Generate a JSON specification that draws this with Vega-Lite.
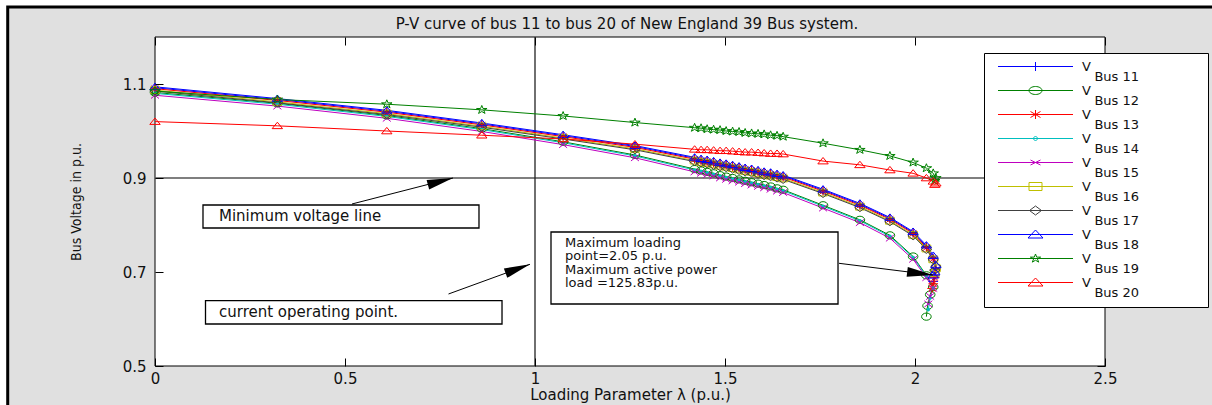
{
  "$schema": "https://vega.github.io/schema/vega-lite/v6.json",
  "width": 950,
  "height": 329,
  "autosize": "none",
  "padding": {"left": 155, "top": 37, "right": 107, "bottom": 39},
  "background": "white",
  "config": {
    "view": {"stroke": null},
    "style": {"guide-label": {"lineHeight": 10}}
  },
  "datasets": {
    "pv": [
      {"b":"Bus 11","l":0,"v":1.092},{"b":"Bus 11","l":0.322,"v":1.067},{"b":"Bus 11","l":0.61,"v":1.042},{"b":"Bus 11","l":0.86,"v":1.015},{"b":"Bus 11","l":1.074,"v":0.99},{"b":"Bus 11","l":1.263,"v":0.967},{"b":"Bus 11","l":1.42,"v":0.942},{"b":"Bus 11","l":1.437,"v":0.939},{"b":"Bus 11","l":1.453,"v":0.937},{"b":"Bus 11","l":1.47,"v":0.934},{"b":"Bus 11","l":1.487,"v":0.931},{"b":"Bus 11","l":1.503,"v":0.929},{"b":"Bus 11","l":1.52,"v":0.926},{"b":"Bus 11","l":1.537,"v":0.923},{"b":"Bus 11","l":1.553,"v":0.92},{"b":"Bus 11","l":1.57,"v":0.918},{"b":"Bus 11","l":1.587,"v":0.915},{"b":"Bus 11","l":1.603,"v":0.912},{"b":"Bus 11","l":1.62,"v":0.91},{"b":"Bus 11","l":1.637,"v":0.907},{"b":"Bus 11","l":1.653,"v":0.904},{"b":"Bus 11","l":1.758,"v":0.874},{"b":"Bus 11","l":1.855,"v":0.844},{"b":"Bus 11","l":1.934,"v":0.814},{"b":"Bus 11","l":1.995,"v":0.784},{"b":"Bus 11","l":2.03,"v":0.754},{"b":"Bus 11","l":2.048,"v":0.73},{"b":"Bus 11","l":2.055,"v":0.707},{"b":"Bus 11","l":2.052,"v":0.692},{"b":"Bus 11","l":2.048,"v":0.68},
      {"b":"Bus 12","l":0,"v":1.082},{"b":"Bus 12","l":0.322,"v":1.059},{"b":"Bus 12","l":0.61,"v":1.033},{"b":"Bus 12","l":0.86,"v":1.005},{"b":"Bus 12","l":1.074,"v":0.977},{"b":"Bus 12","l":1.263,"v":0.949},{"b":"Bus 12","l":1.42,"v":0.919},{"b":"Bus 12","l":1.437,"v":0.916},{"b":"Bus 12","l":1.453,"v":0.913},{"b":"Bus 12","l":1.47,"v":0.91},{"b":"Bus 12","l":1.487,"v":0.906},{"b":"Bus 12","l":1.503,"v":0.903},{"b":"Bus 12","l":1.52,"v":0.9},{"b":"Bus 12","l":1.537,"v":0.897},{"b":"Bus 12","l":1.553,"v":0.894},{"b":"Bus 12","l":1.57,"v":0.891},{"b":"Bus 12","l":1.587,"v":0.888},{"b":"Bus 12","l":1.603,"v":0.885},{"b":"Bus 12","l":1.62,"v":0.882},{"b":"Bus 12","l":1.637,"v":0.878},{"b":"Bus 12","l":1.653,"v":0.875},{"b":"Bus 12","l":1.758,"v":0.842},{"b":"Bus 12","l":1.855,"v":0.811},{"b":"Bus 12","l":1.934,"v":0.778},{"b":"Bus 12","l":1.995,"v":0.733},{"b":"Bus 12","l":2.03,"v":0.693},{"b":"Bus 12","l":2.048,"v":0.668},{"b":"Bus 12","l":2.04,"v":0.652},{"b":"Bus 12","l":2.033,"v":0.628},{"b":"Bus 12","l":2.03,"v":0.605},
      {"b":"Bus 13","l":0,"v":1.09},{"b":"Bus 13","l":0.322,"v":1.065},{"b":"Bus 13","l":0.61,"v":1.04},{"b":"Bus 13","l":0.86,"v":1.013},{"b":"Bus 13","l":1.074,"v":0.988},{"b":"Bus 13","l":1.263,"v":0.965},{"b":"Bus 13","l":1.42,"v":0.94},{"b":"Bus 13","l":1.437,"v":0.937},{"b":"Bus 13","l":1.453,"v":0.935},{"b":"Bus 13","l":1.47,"v":0.932},{"b":"Bus 13","l":1.487,"v":0.929},{"b":"Bus 13","l":1.503,"v":0.927},{"b":"Bus 13","l":1.52,"v":0.924},{"b":"Bus 13","l":1.537,"v":0.921},{"b":"Bus 13","l":1.553,"v":0.918},{"b":"Bus 13","l":1.57,"v":0.916},{"b":"Bus 13","l":1.587,"v":0.913},{"b":"Bus 13","l":1.603,"v":0.91},{"b":"Bus 13","l":1.62,"v":0.908},{"b":"Bus 13","l":1.637,"v":0.905},{"b":"Bus 13","l":1.653,"v":0.902},{"b":"Bus 13","l":1.758,"v":0.872},{"b":"Bus 13","l":1.855,"v":0.842},{"b":"Bus 13","l":1.934,"v":0.812},{"b":"Bus 13","l":1.995,"v":0.782},{"b":"Bus 13","l":2.03,"v":0.752},{"b":"Bus 13","l":2.048,"v":0.728},{"b":"Bus 13","l":2.055,"v":0.705},{"b":"Bus 13","l":2.052,"v":0.688},{"b":"Bus 13","l":2.048,"v":0.675},{"b":"Bus 13","l":2.045,"v":0.665},
      {"b":"Bus 14","l":0,"v":1.08},{"b":"Bus 14","l":0.322,"v":1.057},{"b":"Bus 14","l":0.61,"v":1.031},{"b":"Bus 14","l":0.86,"v":1.003},{"b":"Bus 14","l":1.074,"v":0.975},{"b":"Bus 14","l":1.263,"v":0.947},{"b":"Bus 14","l":1.42,"v":0.917},{"b":"Bus 14","l":1.437,"v":0.914},{"b":"Bus 14","l":1.453,"v":0.911},{"b":"Bus 14","l":1.47,"v":0.908},{"b":"Bus 14","l":1.487,"v":0.904},{"b":"Bus 14","l":1.503,"v":0.901},{"b":"Bus 14","l":1.52,"v":0.898},{"b":"Bus 14","l":1.537,"v":0.895},{"b":"Bus 14","l":1.553,"v":0.892},{"b":"Bus 14","l":1.57,"v":0.889},{"b":"Bus 14","l":1.587,"v":0.886},{"b":"Bus 14","l":1.603,"v":0.883},{"b":"Bus 14","l":1.62,"v":0.88},{"b":"Bus 14","l":1.637,"v":0.876},{"b":"Bus 14","l":1.653,"v":0.873},{"b":"Bus 14","l":1.758,"v":0.84},{"b":"Bus 14","l":1.855,"v":0.809},{"b":"Bus 14","l":1.934,"v":0.776},{"b":"Bus 14","l":1.995,"v":0.731},{"b":"Bus 14","l":2.03,"v":0.691},{"b":"Bus 14","l":2.048,"v":0.666},{"b":"Bus 14","l":2.04,"v":0.645},{"b":"Bus 14","l":2.035,"v":0.62},
      {"b":"Bus 15","l":0,"v":1.076},{"b":"Bus 15","l":0.322,"v":1.053},{"b":"Bus 15","l":0.61,"v":1.027},{"b":"Bus 15","l":0.86,"v":0.999},{"b":"Bus 15","l":1.074,"v":0.971},{"b":"Bus 15","l":1.263,"v":0.943},{"b":"Bus 15","l":1.42,"v":0.913},{"b":"Bus 15","l":1.437,"v":0.91},{"b":"Bus 15","l":1.453,"v":0.907},{"b":"Bus 15","l":1.47,"v":0.904},{"b":"Bus 15","l":1.487,"v":0.9},{"b":"Bus 15","l":1.503,"v":0.897},{"b":"Bus 15","l":1.52,"v":0.894},{"b":"Bus 15","l":1.537,"v":0.891},{"b":"Bus 15","l":1.553,"v":0.888},{"b":"Bus 15","l":1.57,"v":0.885},{"b":"Bus 15","l":1.587,"v":0.882},{"b":"Bus 15","l":1.603,"v":0.879},{"b":"Bus 15","l":1.62,"v":0.876},{"b":"Bus 15","l":1.637,"v":0.872},{"b":"Bus 15","l":1.653,"v":0.869},{"b":"Bus 15","l":1.758,"v":0.836},{"b":"Bus 15","l":1.855,"v":0.805},{"b":"Bus 15","l":1.934,"v":0.772},{"b":"Bus 15","l":1.995,"v":0.727},{"b":"Bus 15","l":2.03,"v":0.688},{"b":"Bus 15","l":2.048,"v":0.665},{"b":"Bus 15","l":2.04,"v":0.648},{"b":"Bus 15","l":2.035,"v":0.632},
      {"b":"Bus 16","l":0,"v":1.087},{"b":"Bus 16","l":0.322,"v":1.062},{"b":"Bus 16","l":0.61,"v":1.037},{"b":"Bus 16","l":0.86,"v":1.01},{"b":"Bus 16","l":1.074,"v":0.985},{"b":"Bus 16","l":1.263,"v":0.962},{"b":"Bus 16","l":1.42,"v":0.937},{"b":"Bus 16","l":1.437,"v":0.934},{"b":"Bus 16","l":1.453,"v":0.932},{"b":"Bus 16","l":1.47,"v":0.929},{"b":"Bus 16","l":1.487,"v":0.926},{"b":"Bus 16","l":1.503,"v":0.924},{"b":"Bus 16","l":1.52,"v":0.921},{"b":"Bus 16","l":1.537,"v":0.918},{"b":"Bus 16","l":1.553,"v":0.915},{"b":"Bus 16","l":1.57,"v":0.913},{"b":"Bus 16","l":1.587,"v":0.91},{"b":"Bus 16","l":1.603,"v":0.907},{"b":"Bus 16","l":1.62,"v":0.905},{"b":"Bus 16","l":1.637,"v":0.902},{"b":"Bus 16","l":1.653,"v":0.899},{"b":"Bus 16","l":1.758,"v":0.869},{"b":"Bus 16","l":1.855,"v":0.839},{"b":"Bus 16","l":1.934,"v":0.809},{"b":"Bus 16","l":1.995,"v":0.779},{"b":"Bus 16","l":2.03,"v":0.75},{"b":"Bus 16","l":2.048,"v":0.727},{"b":"Bus 16","l":2.055,"v":0.708},{"b":"Bus 16","l":2.052,"v":0.698},
      {"b":"Bus 17","l":0,"v":1.085},{"b":"Bus 17","l":0.322,"v":1.06},{"b":"Bus 17","l":0.61,"v":1.035},{"b":"Bus 17","l":0.86,"v":1.008},{"b":"Bus 17","l":1.074,"v":0.983},{"b":"Bus 17","l":1.263,"v":0.96},{"b":"Bus 17","l":1.42,"v":0.935},{"b":"Bus 17","l":1.437,"v":0.932},{"b":"Bus 17","l":1.453,"v":0.93},{"b":"Bus 17","l":1.47,"v":0.927},{"b":"Bus 17","l":1.487,"v":0.924},{"b":"Bus 17","l":1.503,"v":0.922},{"b":"Bus 17","l":1.52,"v":0.919},{"b":"Bus 17","l":1.537,"v":0.916},{"b":"Bus 17","l":1.553,"v":0.913},{"b":"Bus 17","l":1.57,"v":0.911},{"b":"Bus 17","l":1.587,"v":0.908},{"b":"Bus 17","l":1.603,"v":0.905},{"b":"Bus 17","l":1.62,"v":0.903},{"b":"Bus 17","l":1.637,"v":0.9},{"b":"Bus 17","l":1.653,"v":0.897},{"b":"Bus 17","l":1.758,"v":0.867},{"b":"Bus 17","l":1.855,"v":0.837},{"b":"Bus 17","l":1.934,"v":0.807},{"b":"Bus 17","l":1.995,"v":0.777},{"b":"Bus 17","l":2.03,"v":0.748},{"b":"Bus 17","l":2.048,"v":0.726},{"b":"Bus 17","l":2.055,"v":0.712},{"b":"Bus 17","l":2.052,"v":0.704},
      {"b":"Bus 18","l":0,"v":1.094},{"b":"Bus 18","l":0.322,"v":1.069},{"b":"Bus 18","l":0.61,"v":1.044},{"b":"Bus 18","l":0.86,"v":1.017},{"b":"Bus 18","l":1.074,"v":0.992},{"b":"Bus 18","l":1.263,"v":0.969},{"b":"Bus 18","l":1.42,"v":0.944},{"b":"Bus 18","l":1.437,"v":0.941},{"b":"Bus 18","l":1.453,"v":0.939},{"b":"Bus 18","l":1.47,"v":0.936},{"b":"Bus 18","l":1.487,"v":0.933},{"b":"Bus 18","l":1.503,"v":0.931},{"b":"Bus 18","l":1.52,"v":0.928},{"b":"Bus 18","l":1.537,"v":0.925},{"b":"Bus 18","l":1.553,"v":0.922},{"b":"Bus 18","l":1.57,"v":0.92},{"b":"Bus 18","l":1.587,"v":0.917},{"b":"Bus 18","l":1.603,"v":0.914},{"b":"Bus 18","l":1.62,"v":0.912},{"b":"Bus 18","l":1.637,"v":0.909},{"b":"Bus 18","l":1.653,"v":0.906},{"b":"Bus 18","l":1.758,"v":0.876},{"b":"Bus 18","l":1.855,"v":0.846},{"b":"Bus 18","l":1.934,"v":0.816},{"b":"Bus 18","l":1.995,"v":0.786},{"b":"Bus 18","l":2.03,"v":0.757},{"b":"Bus 18","l":2.048,"v":0.735},{"b":"Bus 18","l":2.055,"v":0.715},{"b":"Bus 18","l":2.052,"v":0.7},{"b":"Bus 18","l":2.048,"v":0.693},
      {"b":"Bus 19","l":0,"v":1.085},{"b":"Bus 19","l":0.322,"v":1.067},{"b":"Bus 19","l":0.61,"v":1.057},{"b":"Bus 19","l":0.86,"v":1.045},{"b":"Bus 19","l":1.074,"v":1.032},{"b":"Bus 19","l":1.263,"v":1.018},{"b":"Bus 19","l":1.42,"v":1.007},{"b":"Bus 19","l":1.437,"v":1.006},{"b":"Bus 19","l":1.453,"v":1.004},{"b":"Bus 19","l":1.47,"v":1.003},{"b":"Bus 19","l":1.487,"v":1.002},{"b":"Bus 19","l":1.503,"v":1.0},{"b":"Bus 19","l":1.52,"v":0.999},{"b":"Bus 19","l":1.537,"v":0.998},{"b":"Bus 19","l":1.553,"v":0.996},{"b":"Bus 19","l":1.57,"v":0.995},{"b":"Bus 19","l":1.587,"v":0.994},{"b":"Bus 19","l":1.603,"v":0.993},{"b":"Bus 19","l":1.62,"v":0.991},{"b":"Bus 19","l":1.637,"v":0.99},{"b":"Bus 19","l":1.653,"v":0.988},{"b":"Bus 19","l":1.758,"v":0.974},{"b":"Bus 19","l":1.855,"v":0.96},{"b":"Bus 19","l":1.934,"v":0.947},{"b":"Bus 19","l":1.995,"v":0.933},{"b":"Bus 19","l":2.03,"v":0.921},{"b":"Bus 19","l":2.048,"v":0.91},{"b":"Bus 19","l":2.055,"v":0.9},{"b":"Bus 19","l":2.052,"v":0.894},
      {"b":"Bus 20","l":0,"v":1.02},{"b":"Bus 20","l":0.322,"v":1.011},{"b":"Bus 20","l":0.61,"v":1.0},{"b":"Bus 20","l":0.86,"v":0.991},{"b":"Bus 20","l":1.074,"v":0.983},{"b":"Bus 20","l":1.263,"v":0.972},{"b":"Bus 20","l":1.42,"v":0.961},{"b":"Bus 20","l":1.437,"v":0.96},{"b":"Bus 20","l":1.453,"v":0.96},{"b":"Bus 20","l":1.47,"v":0.959},{"b":"Bus 20","l":1.487,"v":0.958},{"b":"Bus 20","l":1.503,"v":0.958},{"b":"Bus 20","l":1.52,"v":0.957},{"b":"Bus 20","l":1.537,"v":0.956},{"b":"Bus 20","l":1.553,"v":0.955},{"b":"Bus 20","l":1.57,"v":0.955},{"b":"Bus 20","l":1.587,"v":0.954},{"b":"Bus 20","l":1.603,"v":0.953},{"b":"Bus 20","l":1.62,"v":0.952},{"b":"Bus 20","l":1.637,"v":0.952},{"b":"Bus 20","l":1.653,"v":0.951},{"b":"Bus 20","l":1.758,"v":0.936},{"b":"Bus 20","l":1.855,"v":0.928},{"b":"Bus 20","l":1.934,"v":0.917},{"b":"Bus 20","l":1.995,"v":0.91},{"b":"Bus 20","l":2.03,"v":0.9},{"b":"Bus 20","l":2.048,"v":0.893},{"b":"Bus 20","l":2.055,"v":0.889},{"b":"Bus 20","l":2.052,"v":0.886}
    ]
  },
  "resolve": {"axis": {"x": "independent", "y": "independent"}},
  "layer": [
    {
      "data": {"values": [{}]},
      "mark": {"type": "rect", "fill": "#e0e0e0", "stroke": "black", "strokeWidth": 3},
      "encoding": {
        "x": {"datum": -0.3876, "type": "quantitative", "axis": null},
        "x2": {"datum": 3.3},
        "y": {"datum": 1.2638, "type": "quantitative", "axis": null},
        "y2": {"datum": 0.1}
      }
    },
    {
      "data": {"values": [{}]},
      "mark": {"type": "rect", "fill": "white", "stroke": "black", "strokeWidth": 1},
      "encoding": {
        "x": {"datum": 0, "type": "quantitative", "scale": {"domain": [0, 2.5], "nice": false, "zero": false},
          "axis": {"orient": "bottom", "values": [0, 0.5, 1, 1.5, 2, 2.5], "format": "~g", "domain": false, "grid": false, "ticks": true, "tickSize": -8, "tickColor": "black", "labelFont": "DejaVu Sans", "labelFontSize": 15, "labelColor": "#111", "labelPadding": 13, "labelFlush": false, "labelOverlap": false, "title": "Loading Parameter λ (p.u.)", "titleFont": "DejaVu Sans", "titleFontSize": 15, "titleFontWeight": "normal", "titleColor": "#111", "titlePadding": 1, "zindex": 1}},
        "x2": {"datum": 2.5},
        "y": {"datum": 0.5, "type": "quantitative", "scale": {"domain": [0.5, 1.2], "nice": false, "zero": false},
          "axis": {"orient": "left", "values": [0.5, 0.7, 0.9, 1.1], "format": "~g", "domain": false, "grid": false, "ticks": true, "tickSize": -8, "tickColor": "black", "labelFont": "DejaVu Sans", "labelFontSize": 15, "labelColor": "#111", "labelPadding": 17, "labelFlush": false, "labelOverlap": false, "title": "Bus Voltage in p.u.", "titleFont": "DejaVu Sans Condensed, Liberation Sans Narrow, sans-serif", "titleFontSize": 14, "titleFontWeight": "normal", "titleColor": "#111", "titlePadding": 39, "zindex": 1}},
        "y2": {"datum": 1.2}
      }
    },
    {
      "data": {"values": [{}]},
      "mark": {"type": "rule", "color": "#555", "strokeWidth": 1.3},
      "encoding": {
        "y": {"datum": 0.9, "type": "quantitative", "axis": {"orient": "right", "values": [0.5], "labels": false, "title": null, "domain": false, "grid": false, "tickSize": -8, "tickColor": "black", "zindex": 1}}
      }
    },
    {
      "data": {"values": [{}]},
      "mark": {"type": "rule", "color": "#222", "strokeWidth": 1.3},
      "encoding": {
        "x": {"datum": 1, "type": "quantitative", "axis": {"orient": "top", "values": [0, 0.5, 1, 1.5, 2, 2.5], "labels": false, "title": null, "domain": false, "grid": false, "tickSize": -8, "tickColor": "black", "zindex": 1}}
      }
    },
    {
      "data": {"values": [{}]},
      "mark": {"type": "text", "text": "P-V curve of bus 11 to bus 20 of New England 39 Bus system.", "align": "center", "baseline": "middle", "font": "DejaVu Sans", "fontSize": 15, "color": "#111"},
      "encoding": {"x": {"datum": 1.242, "type": "quantitative", "axis": null}, "y": {"datum": 1.2277, "type": "quantitative", "axis": null}}
    },
    {
      "data": {"name": "pv"},
      "mark": {"type": "line", "strokeWidth": 1},
      "encoding": {
        "x": {"field": "l", "type": "quantitative", "axis": null},
        "y": {"field": "v", "type": "quantitative", "axis": null},
        "stroke": {"field": "b", "type": "nominal", "scale": {"range": ["#0000ff","#008000","#ff0000","#00bfbf","#bf00bf","#bfbf00","#404040","#0000ff","#008000","#ff0000"]}, "legend": null},
        "order": {"value": null}
      }
    },
    {"data": {"name": "pv"}, "transform": [{"filter": {"field": "b", "equal": "Bus 11"}}], "mark": {"type": "point", "shape": "M-1.2,0H1.2M0,-1.1V1.1", "filled": false, "size": 64, "strokeWidth": 1, "opacity": 1, "color": "#0000ff"}, "encoding": {"x": {"field": "l", "type": "quantitative", "axis": null}, "y": {"field": "v", "type": "quantitative", "axis": null}}},
    {"data": {"name": "pv"}, "transform": [{"filter": {"field": "b", "equal": "Bus 12"}}], "mark": {"type": "point", "shape": "M-1.2,0A1.2,0.9 0 1,0 1.2,0A1.2,0.9 0 1,0 -1.2,0Z", "filled": false, "size": 64, "strokeWidth": 1, "opacity": 1, "color": "#008000"}, "encoding": {"x": {"field": "l", "type": "quantitative", "axis": null}, "y": {"field": "v", "type": "quantitative", "axis": null}}},
    {"data": {"name": "pv"}, "transform": [{"filter": {"field": "b", "equal": "Bus 13"}}], "mark": {"type": "point", "shape": "M-1.2,0H1.2M0,-1.1V1.1M-0.85,-0.75L0.85,0.75M-0.85,0.75L0.85,-0.75", "filled": false, "size": 64, "strokeWidth": 1, "opacity": 1, "color": "#ff0000"}, "encoding": {"x": {"field": "l", "type": "quantitative", "axis": null}, "y": {"field": "v", "type": "quantitative", "axis": null}}},
    {"data": {"name": "pv"}, "transform": [{"filter": {"field": "b", "equal": "Bus 14"}}], "mark": {"type": "point", "shape": "M-0.45,0A0.45,0.45 0 1,0 0.45,0A0.45,0.45 0 1,0 -0.45,0Z", "filled": true, "size": 64, "opacity": 1, "color": "#00bfbf"}, "encoding": {"x": {"field": "l", "type": "quantitative", "axis": null}, "y": {"field": "v", "type": "quantitative", "axis": null}}},
    {"data": {"name": "pv"}, "transform": [{"filter": {"field": "b", "equal": "Bus 15"}}], "mark": {"type": "point", "shape": "M-1,-0.8L1,0.8M-1,0.8L1,-0.8", "filled": false, "size": 64, "strokeWidth": 1, "opacity": 1, "color": "#bf00bf"}, "encoding": {"x": {"field": "l", "type": "quantitative", "axis": null}, "y": {"field": "v", "type": "quantitative", "axis": null}}},
    {"data": {"name": "pv"}, "transform": [{"filter": {"field": "b", "equal": "Bus 16"}}], "mark": {"type": "point", "shape": "M-1.1,-0.85H1.1V0.85H-1.1Z", "filled": false, "size": 64, "strokeWidth": 1, "opacity": 1, "color": "#bfbf00"}, "encoding": {"x": {"field": "l", "type": "quantitative", "axis": null}, "y": {"field": "v", "type": "quantitative", "axis": null}}},
    {"data": {"name": "pv"}, "transform": [{"filter": {"field": "b", "equal": "Bus 17"}}], "mark": {"type": "point", "shape": "M0,-1L1.3,0L0,1L-1.3,0Z", "filled": false, "size": 64, "strokeWidth": 1, "opacity": 1, "color": "#404040"}, "encoding": {"x": {"field": "l", "type": "quantitative", "axis": null}, "y": {"field": "v", "type": "quantitative", "axis": null}}},
    {"data": {"name": "pv"}, "transform": [{"filter": {"field": "b", "equal": "Bus 18"}}], "mark": {"type": "point", "shape": "M0,-0.9L1.3,0.7L-1.3,0.7Z", "filled": false, "size": 64, "strokeWidth": 1, "opacity": 1, "color": "#0000ff"}, "encoding": {"x": {"field": "l", "type": "quantitative", "axis": null}, "y": {"field": "v", "type": "quantitative", "axis": null}}},
    {"data": {"name": "pv"}, "transform": [{"filter": {"field": "b", "equal": "Bus 19"}}], "mark": {"type": "point", "shape": "M0,-1.1L0.309,-0.34L1.308,-0.34L0.499,0.13L0.809,0.89L0,0.42L-0.809,0.89L-0.499,0.13L-1.308,-0.34L-0.309,-0.34Z", "filled": false, "size": 64, "strokeWidth": 1, "opacity": 1, "color": "#008000"}, "encoding": {"x": {"field": "l", "type": "quantitative", "axis": null}, "y": {"field": "v", "type": "quantitative", "axis": null}}},
    {"data": {"name": "pv"}, "transform": [{"filter": {"field": "b", "equal": "Bus 20"}}], "mark": {"type": "point", "shape": "M0,-0.9L1.3,0.7L-1.3,0.7Z", "filled": false, "size": 64, "strokeWidth": 1, "opacity": 1, "color": "#ff0000"}, "encoding": {"x": {"field": "l", "type": "quantitative", "axis": null}, "y": {"field": "v", "type": "quantitative", "axis": null}}},
    {
      "data": {"values": [{}]},
      "mark": {"type": "rect", "fill": "white", "stroke": "black", "strokeWidth": 1.3},
      "encoding": {"x": {"datum": 0.1263, "type": "quantitative", "axis": null}, "x2": {"datum": 0.8526}, "y": {"datum": 0.8426, "type": "quantitative", "axis": null}, "y2": {"datum": 0.7936}}
    },
    {
      "data": {"values": [{}]},
      "mark": {"type": "rect", "fill": "white", "stroke": "black", "strokeWidth": 1.3},
      "encoding": {"x": {"datum": 0.1329, "type": "quantitative", "axis": null}, "x2": {"datum": 0.9132}, "y": {"datum": 0.6389, "type": "quantitative", "axis": null}, "y2": {"datum": 0.5894}}
    },
    {
      "data": {"values": [{}]},
      "mark": {"type": "rect", "fill": "white", "stroke": "black", "strokeWidth": 1.3},
      "encoding": {"x": {"datum": 1.0421, "type": "quantitative", "axis": null}, "x2": {"datum": 1.7974}, "y": {"datum": 0.7851, "type": "quantitative", "axis": null}, "y2": {"datum": 0.6319}}
    },
    {
      "data": {"values": [{}]},
      "mark": {"type": "text", "text": "Minimum voltage line", "align": "left", "baseline": "middle", "font": "DejaVu Sans", "fontSize": 15, "color": "#111"},
      "encoding": {"x": {"datum": 0.1684, "type": "quantitative", "axis": null}, "y": {"datum": 0.8181, "type": "quantitative", "axis": null}}
    },
    {
      "data": {"values": [{}]},
      "mark": {"type": "text", "text": "current operating point.", "align": "left", "baseline": "middle", "font": "DejaVu Sans", "fontSize": 15, "color": "#111"},
      "encoding": {"x": {"datum": 0.1684, "type": "quantitative", "axis": null}, "y": {"datum": 0.6142, "type": "quantitative", "axis": null}}
    },
    {
      "data": {"values": [{}]},
      "mark": {"type": "text", "text": ["Maximum loading", "point=2.05 p.u.", "Maximum active power", "load =125.83p.u."], "lineHeight": 13.4, "align": "left", "baseline": "middle", "font": "DejaVu Sans", "fontSize": 13, "color": "#111"},
      "encoding": {"x": {"datum": 1.0789, "type": "quantitative", "axis": null}, "y": {"datum": 0.7617, "type": "quantitative", "axis": null}}
    },
    {
      "data": {"values": [{}]},
      "mark": {"type": "rule", "color": "black", "strokeWidth": 1},
      "encoding": {"x": {"datum": 0.5184, "type": "quantitative", "axis": null}, "x2": {"datum": 0.7842}, "y": {"datum": 0.8447, "type": "quantitative", "axis": null}, "y2": {"datum": 0.9}}
    },
    {
      "data": {"values": [{}]},
      "mark": {"type": "rule", "color": "black", "strokeWidth": 1},
      "encoding": {"x": {"datum": 0.7724, "type": "quantitative", "axis": null}, "x2": {"datum": 0.9868}, "y": {"datum": 0.6532, "type": "quantitative", "axis": null}, "y2": {"datum": 0.7164}}
    },
    {
      "data": {"values": [{}]},
      "mark": {"type": "rule", "color": "black", "strokeWidth": 1},
      "encoding": {"x": {"datum": 1.8, "type": "quantitative", "axis": null}, "x2": {"datum": 2.0474}, "y": {"datum": 0.7185, "type": "quantitative", "axis": null}, "y2": {"datum": 0.6936}}
    },
    {
      "data": {"values": [{}]},
      "mark": {"type": "point", "shape": "M0,0L0.38,2L-0.38,2Z", "filled": true, "color": "black", "opacity": 1, "size": 676, "angle": 75},
      "encoding": {"x": {"datum": 0.7842, "type": "quantitative", "axis": null}, "y": {"datum": 0.9, "type": "quantitative", "axis": null}}
    },
    {
      "data": {"values": [{}]},
      "mark": {"type": "point", "shape": "M0,0L0.38,2L-0.38,2Z", "filled": true, "color": "black", "opacity": 1, "size": 676, "angle": 70},
      "encoding": {"x": {"datum": 0.9868, "type": "quantitative", "axis": null}, "y": {"datum": 0.7164, "type": "quantitative", "axis": null}}
    },
    {
      "data": {"values": [{}]},
      "mark": {"type": "point", "shape": "M0,0L0.38,2L-0.38,2Z", "filled": true, "color": "black", "opacity": 1, "size": 676, "angle": 97},
      "encoding": {"x": {"datum": 2.0474, "type": "quantitative", "axis": null}, "y": {"datum": 0.6936, "type": "quantitative", "axis": null}}
    },
    {
      "data": {"name": "pv"},
      "transform": [{"filter": {"field": "l", "equal": 0}}],
      "mark": {"type": "point", "filled": false, "opacity": 1, "strokeWidth": 1, "size": 0},
      "encoding": {
        "x": {"field": "l", "type": "quantitative", "axis": null},
        "y": {"field": "v", "type": "quantitative", "axis": null},
        "color": {"field": "b", "type": "nominal",
          "scale": {"domain": ["Bus 11","Bus 12","Bus 13","Bus 14","Bus 15","Bus 16","Bus 17","Bus 18","Bus 19","Bus 20"], "range": ["#0000ff","#008000","#ff0000","#00bfbf","#bf00bf","#bfbf00","#404040","#0000ff","#008000","#ff0000"]},
          "legend": {"title": null, "orient": "none", "legendX": 829, "legendY": 16, "symbolSize": 100, "symbolStrokeWidth": 1, "labelExpr": "['V', '\u200b\u00a0\u00a0\u00a0' + datum.label + '\u00a0\u00a0\u00a0\u00a0\u00a0\u00a0\u00a0\u00a0\u00a0\u00a0\u00a0\u00a0\u00a0\u00a0\u00a0\u200b']", "labelFont": "DejaVu Sans", "labelFontSize": 13, "labelColor": "#111", "labelOffset": 78, "padding": 7, "rowPadding": 0, "strokeColor": "black", "fillColor": "white", "zindex": 2}},
        "shape": {"field": "b", "type": "nominal",
          "scale": {"domain": ["Bus 11","Bus 12","Bus 13","Bus 14","Bus 15","Bus 16","Bus 17","Bus 18","Bus 19","Bus 20"], "range": [
            "M-1.3,0M0.1,0H15.1M7.6,-0.9V0.9",
            "M-1.3,0M0.1,0H15.1M6.3,0A1.3,0.8 0 1,0 8.9,0A1.3,0.8 0 1,0 6.3,0Z",
            "M-1.3,0M0.1,0H15.1M7.6,-0.9V0.9M6.6,-0.6L8.6,0.6M6.6,0.6L8.6,-0.6",
            "M-1.3,0M0.1,0H15.1M7.2,0A0.4,0.4 0 1,0 8,0A0.4,0.4 0 1,0 7.2,0Z",
            "M-1.3,0M0.1,0H15.1M6.6,-0.5L8.6,0.5M6.6,0.5L8.6,-0.5",
            "M-1.3,0M0.1,0H15.1M6.3,-0.8H8.9V0.8H6.3Z",
            "M-1.3,0M0.1,0H15.1M7.6,-0.9L8.8,0L7.6,0.9L6.4,0Z",
            "M-1.3,0M0.1,0H15.1M7.6,-0.9L9.1,0.7L6.1,0.7Z",
            "M-1.3,0M0.1,0H15.1M7.6,-0.9L7.842,-0.278L8.627,-0.278L7.992,0.106L8.235,0.728L7.6,0.344L6.965,0.728L7.208,0.106L6.573,-0.278L7.358,-0.278Z",
            "M-1.3,0M0.1,0H15.1M7.6,-0.9L9.1,0.7L6.1,0.7Z"]},
          "legend": {"title": null, "orient": "none", "legendX": 829, "legendY": 16, "symbolSize": 100, "symbolStrokeWidth": 1, "labelExpr": "['V', '\u200b\u00a0\u00a0\u00a0' + datum.label + '\u00a0\u00a0\u00a0\u00a0\u00a0\u00a0\u00a0\u00a0\u00a0\u00a0\u00a0\u00a0\u00a0\u00a0\u00a0\u200b']", "labelFont": "DejaVu Sans", "labelFontSize": 13, "labelColor": "#111", "labelOffset": 78, "padding": 7, "rowPadding": 0, "strokeColor": "black", "fillColor": "white", "zindex": 2}}
      }
    }
  ]
}
